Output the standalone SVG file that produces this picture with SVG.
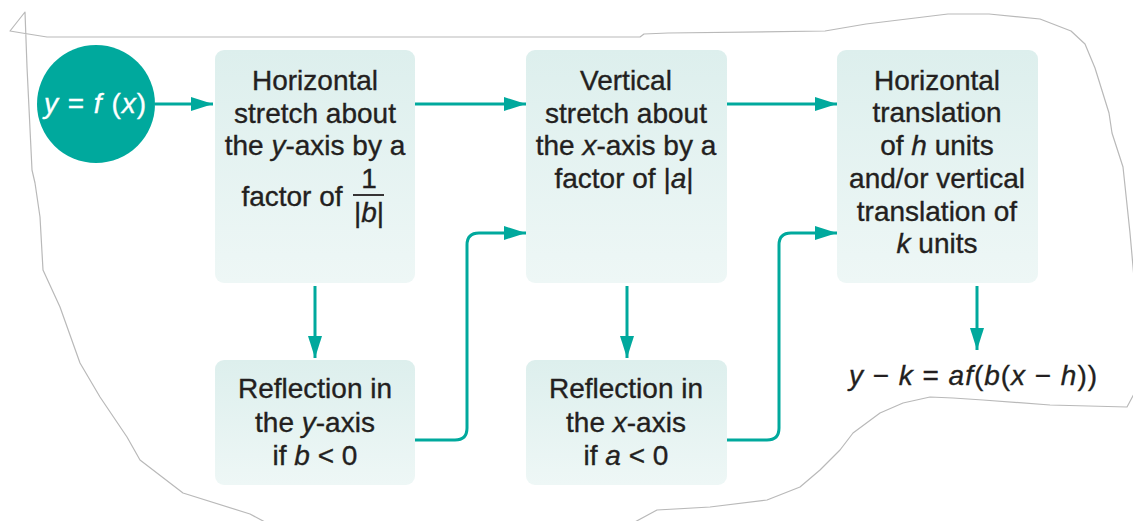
<svg xmlns="http://www.w3.org/2000/svg" width="1133" height="521" viewBox="0 0 1133 521">
<style>
.t{font-family:"Liberation Sans",Arial,sans-serif;font-size:28px;fill:#231f20;stroke:#231f20;stroke-width:0.35;text-anchor:middle}
.w{fill:#fff;stroke:#fff}
.i{font-style:italic}
.box{fill:url(#g)}
.c{fill:none;stroke:#00a99d;stroke-width:3}
.outline{fill:none;stroke:#b9b9b9;stroke-width:1.2;stroke-linejoin:round}
</style>
<defs>
<linearGradient id="g" x1="0" y1="0" x2="0" y2="1">
<stop offset="0" stop-color="#ddefed"/>
<stop offset="1" stop-color="#eef7f6"/>
</linearGradient>
<marker id="ah" viewBox="0 0 22 14" refX="22" refY="7" markerWidth="22" markerHeight="14" markerUnits="userSpaceOnUse" orient="auto">
<path d="M0,0 L22,7 L0,14 z" fill="#00a99d"/>
</marker>
</defs>
<rect width="1133" height="521" fill="#fff"/>
<path class="outline" d="M250,514 L183,493 L140,460 L127,437 L100,397 L80,363 L60,307 L43,270 L40,217 L35,183 L32,170 L27,67 L25,12 L10,31 L22,33 L47,37 L640,37 L644,34 L668,33 L825,31 L866,24 L948,14 L989,14 L1040,19 L1071,31 L1085,44 L1095,68 L1109,113 L1112,133 L1123,167 L1130,233 L1136,300 L1136,390 L1127,407 L1050,405 L983,400 L953,398 L930,397 L903,403 L880,413 L853,433 L840,450 L820,470 L800,487 L767,500 L710,507 L657,510 L620,530 L280,530 Z"/>
<g id="connectors">
<path class="c" d="M155,104 H213" marker-end="url(#ah)"/>
<path class="c" d="M415,104 H526" marker-end="url(#ah)"/>
<path class="c" d="M727,104 H837" marker-end="url(#ah)"/>
<path class="c" d="M315,286 V358" marker-end="url(#ah)"/>
<path class="c" d="M627,286 V358" marker-end="url(#ah)"/>
<path class="c" d="M977,286 V350" marker-end="url(#ah)"/>
<path class="c" d="M415,440 H455 Q467,440 467,428 V245 Q467,233 479,233 H526" marker-end="url(#ah)"/>
<path class="c" d="M727,440 H767 Q779,440 779,428 V245 Q779,233 791,233 H837" marker-end="url(#ah)"/>
</g>
<g id="start">
<circle cx="96" cy="104" r="59" fill="#00a99d"/>
<text class="t w" x="95" y="113" textLength="102"><tspan class="i">y</tspan> = <tspan class="i">f</tspan> (<tspan class="i">x</tspan>)</text>
</g>
<g id="hstretch">
<rect class="box" x="215" y="50" width="200" height="233" rx="9"/>
<text class="t" x="315" y="90">Horizontal</text>
<text class="t" x="315" y="123">stretch about</text>
<text class="t" x="315" y="155">the <tspan class="i">y</tspan>-axis by a</text>
<text class="t" x="292" y="206">factor of</text>
<text class="t" x="369" y="188">1</text>
<line x1="353" y1="195" x2="384" y2="195" stroke="#231f20" stroke-width="1.8"/>
<text class="t" x="369" y="222">|<tspan class="i">b</tspan>|</text>
</g>
<g id="vstretch">
<rect class="box" x="526" y="50" width="201" height="233" rx="9"/>
<text class="t" x="626" y="90">Vertical</text>
<text class="t" x="626" y="123">stretch about</text>
<text class="t" x="626" y="155">the <tspan class="i">x</tspan>-axis by a</text>
<text class="t" x="624" y="188">factor of |<tspan class="i">a</tspan>|</text>
</g>
<g id="translation">
<rect class="box" x="837" y="50" width="201" height="233" rx="9"/>
<text class="t" x="937" y="90">Horizontal</text>
<text class="t" x="937" y="122">translation</text>
<text class="t" x="937" y="155">of <tspan class="i">h</tspan> units</text>
<text class="t" x="937" y="188">and/or vertical</text>
<text class="t" x="937" y="221">translation of</text>
<text class="t" x="937" y="253"><tspan class="i">k</tspan> units</text>
</g>
<g id="yreflect">
<rect class="box" x="215" y="360" width="200" height="125" rx="9"/>
<text class="t" x="315" y="398">Reflection in</text>
<text class="t" x="315" y="432">the <tspan class="i">y</tspan>-axis</text>
<text class="t" x="315" y="465">if <tspan class="i">b</tspan> &lt; 0</text>
</g>
<g id="xreflect">
<rect class="box" x="526" y="360" width="201" height="125" rx="9"/>
<text class="t" x="626" y="398">Reflection in</text>
<text class="t" x="626" y="432">the <tspan class="i">x</tspan>-axis</text>
<text class="t" x="626" y="465">if <tspan class="i">a</tspan> &lt; 0</text>
</g>
<g id="result">
<text class="t" x="973" y="385" textLength="248"><tspan class="i">y</tspan> − <tspan class="i">k</tspan> = <tspan class="i">af</tspan>(<tspan class="i">b</tspan>(<tspan class="i">x</tspan> − <tspan class="i">h</tspan>))</text>
</g>
</svg>
